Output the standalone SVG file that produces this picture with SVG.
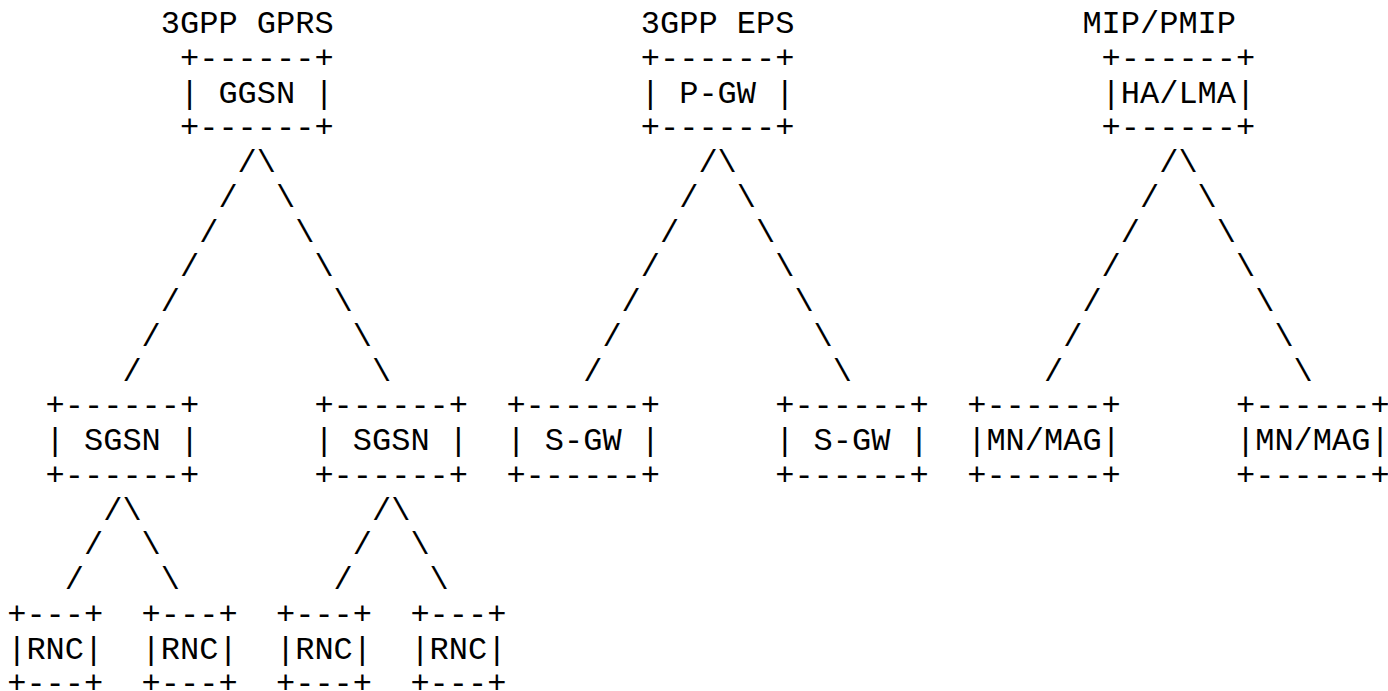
<svg xmlns="http://www.w3.org/2000/svg" width="1388" height="691" viewBox="0 0 1388 691">
<style>
text{font-family:"Liberation Mono","Courier New",monospace;font-size:32px;fill:#000;white-space:pre}
</style>
<rect width="1388" height="691" fill="#fff"/>
<g id="title-gprs"><text x="160.8" y="33">3GPP GPRS</text></g>
<g id="title-eps"><text x="640.8" y="33">3GPP EPS</text></g>
<g id="title-mip"><text x="1082.4" y="33">MIP/PMIP</text></g>
<g id="ggsn"><text x="180" y="67.75">+------+</text><text x="180" y="102.5">| GGSN |</text><text x="180" y="137.25">+------+</text></g>
<g id="pgw"><text x="640.8" y="67.75">+------+</text><text x="640.8" y="102.5">| P-GW |</text><text x="640.8" y="137.25">+------+</text></g>
<g id="halma"><text x="1101.6" y="67.75">+------+</text><text x="1101.6" y="102.5">|HA/LMA|</text><text x="1101.6" y="137.25">+------+</text></g>
<g id="sgsn1"><text x="45.6" y="415.25">+------+</text><text x="45.6" y="450">| SGSN |</text><text x="45.6" y="484.75">+------+</text></g>
<g id="sgsn2"><text x="314.4" y="415.25">+------+</text><text x="314.4" y="450">| SGSN |</text><text x="314.4" y="484.75">+------+</text></g>
<g id="sgw1"><text x="506.4" y="415.25">+------+</text><text x="506.4" y="450">| S-GW |</text><text x="506.4" y="484.75">+------+</text></g>
<g id="sgw2"><text x="775.2" y="415.25">+------+</text><text x="775.2" y="450">| S-GW |</text><text x="775.2" y="484.75">+------+</text></g>
<g id="mnmag1"><text x="967.2" y="415.25">+------+</text><text x="967.2" y="450">|MN/MAG|</text><text x="967.2" y="484.75">+------+</text></g>
<g id="mnmag2"><text x="1236" y="415.25">+------+</text><text x="1236" y="450">|MN/MAG|</text><text x="1236" y="484.75">+------+</text></g>
<g id="rnc1"><text x="7.2" y="623.75">+---+</text><text x="7.2" y="658.5">|RNC|</text><text x="7.2" y="693.25">+---+</text></g>
<g id="rnc2"><text x="141.6" y="623.75">+---+</text><text x="141.6" y="658.5">|RNC|</text><text x="141.6" y="693.25">+---+</text></g>
<g id="rnc3"><text x="276" y="623.75">+---+</text><text x="276" y="658.5">|RNC|</text><text x="276" y="693.25">+---+</text></g>
<g id="rnc4"><text x="410.4" y="623.75">+---+</text><text x="410.4" y="658.5">|RNC|</text><text x="410.4" y="693.25">+---+</text></g>
<g id="connectors">
<text x="237.6" y="172">/</text><text x="256.8" y="172">\</text>
<text x="218.4" y="206.75">/</text><text x="276" y="206.75">\</text>
<text x="199.2" y="241.5">/</text><text x="295.2" y="241.5">\</text>
<text x="180" y="276.25">/</text><text x="314.4" y="276.25">\</text>
<text x="160.8" y="311">/</text><text x="333.6" y="311">\</text>
<text x="141.6" y="345.75">/</text><text x="352.8" y="345.75">\</text>
<text x="122.4" y="380.5">/</text><text x="372" y="380.5">\</text>
<text x="698.4" y="172">/</text><text x="717.6" y="172">\</text>
<text x="679.2" y="206.75">/</text><text x="736.8" y="206.75">\</text>
<text x="660" y="241.5">/</text><text x="756" y="241.5">\</text>
<text x="640.8" y="276.25">/</text><text x="775.2" y="276.25">\</text>
<text x="621.6" y="311">/</text><text x="794.4" y="311">\</text>
<text x="602.4" y="345.75">/</text><text x="813.6" y="345.75">\</text>
<text x="583.2" y="380.5">/</text><text x="832.8" y="380.5">\</text>
<text x="1159.2" y="172">/</text><text x="1178.4" y="172">\</text>
<text x="1140" y="206.75">/</text><text x="1197.6" y="206.75">\</text>
<text x="1120.8" y="241.5">/</text><text x="1216.8" y="241.5">\</text>
<text x="1101.6" y="276.25">/</text><text x="1236" y="276.25">\</text>
<text x="1082.4" y="311">/</text><text x="1255.2" y="311">\</text>
<text x="1063.2" y="345.75">/</text><text x="1274.4" y="345.75">\</text>
<text x="1044" y="380.5">/</text><text x="1293.6" y="380.5">\</text>
<text x="103.2" y="519.5">/</text><text x="122.4" y="519.5">\</text>
<text x="84" y="554.25">/</text><text x="141.6" y="554.25">\</text>
<text x="64.8" y="589">/</text><text x="160.8" y="589">\</text>
<text x="372" y="519.5">/</text><text x="391.2" y="519.5">\</text>
<text x="352.8" y="554.25">/</text><text x="410.4" y="554.25">\</text>
<text x="333.6" y="589">/</text><text x="429.6" y="589">\</text>
</g>
</svg>
